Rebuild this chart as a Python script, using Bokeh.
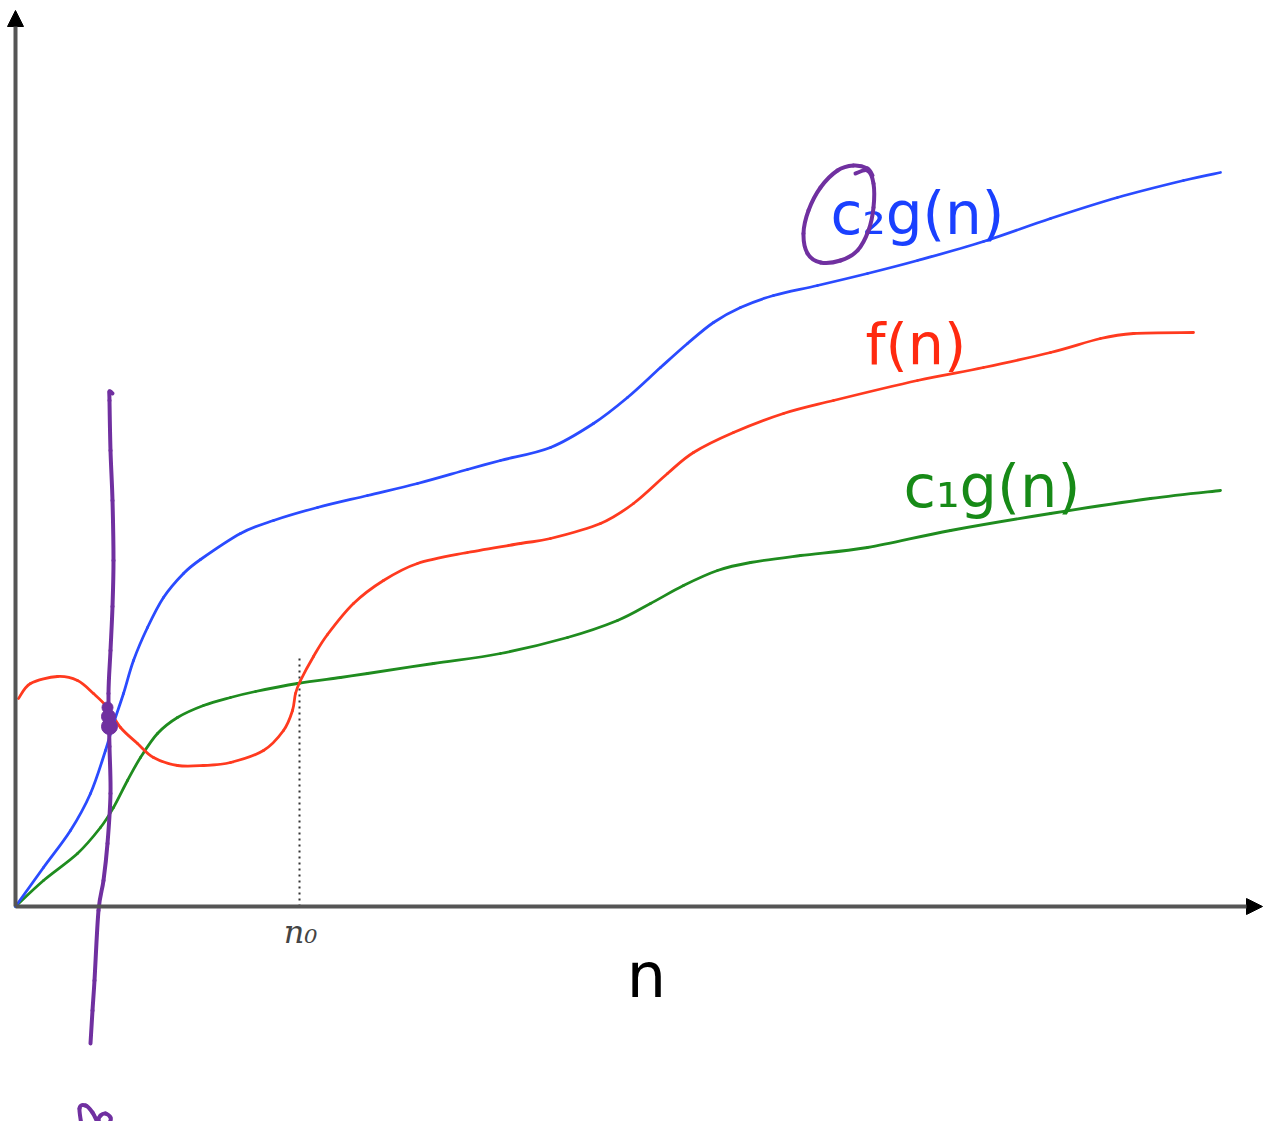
import numpy as np
from bokeh.plotting import figure
from bokeh.models import Range1d, Arrow, NormalHead
from bokeh.core.properties import value
from bokeh.embed import file_html
from bokeh.resources import INLINE

# c2 g(n) (upper bound)
upper_n = [0, 28, 55, 75, 90, 98, 108, 118, 132, 148, 168, 185, 225, 258, 302, 352, 402, 452, 485,
           535, 578, 612, 645, 672, 698, 725, 758, 802, 852, 902, 968, 1035, 1102, 1168, 1205]
upper_v = [0, 39, 76, 113, 156, 183, 213, 246, 279, 309, 333, 347, 373, 386, 399, 411, 423, 437, 446,
           459, 483, 509, 539, 563, 584, 599, 611, 621, 633, 646, 665, 688, 709, 726, 734]

# f(n)
f_n = [3, 15, 42, 62, 78, 92, 105, 122, 138, 162, 188, 215, 248, 268, 277, 280, 285, 298, 312, 338, 368,
       402, 452, 505, 535, 585, 618, 652, 678, 718, 768, 818, 902, 968, 1035, 1085, 1118, 1178]
f_v = [208, 223, 230, 226, 213, 199, 179, 163, 149, 141, 141, 144, 156, 176, 196, 213, 226, 250, 272, 303, 326,
       343, 354, 363, 368, 383, 403, 433, 454, 474, 493, 506, 526, 539, 554, 568, 573, 574]

# c1 g(n) (lower bound)
lower_n = [0, 28, 62, 85, 98, 112, 125, 142, 162, 188, 215, 240, 282, 325, 352, 418, 485, 552, 602, 635,
           668, 702, 735, 785, 852, 935, 1035, 1135, 1205]
lower_v = [0, 26, 53, 79, 99, 126, 149, 173, 189, 201, 209, 215, 223, 229, 233, 243, 253, 269, 286, 303,
           321, 336, 344, 351, 359, 376, 393, 408, 416]

n0 = 284
n0_level = 251

# handwritten annotations
pen_line_x = [97, 94, 94, 95, 97, 98, 97, 95, 93, 94, 95, 92, 88, 83, 79, 77, 75]
pen_line_y = [513, 515, 506, 456, 406, 346, 300, 256, 213, 160, 113, 63, 26, -4, -74, -104, -137]
pen_dot_x = [92, 93, 94]
pen_dot_y = [199, 190, 180]
pen_dot_size = [11, 14, 16]
pen_ring_x = [840, 852, 858, 858, 853, 842, 825, 805, 792, 788, 793, 805, 822, 838, 852, 857]
pen_ring_y = [733, 736, 723, 699, 676, 656, 646, 644, 653, 673, 696, 719, 736, 741, 738, 731]
pen_note_x = [67, 64, 70, 77, 82, 85, 88, 94, 95, 90, 85, 83, 86]
pen_note_y = [-224, -202, -199, -206, -216, -222, -221, -216, -211, -207, -209, -214, -221]


def smooth(p, xs, ys, **kw):
    """Draw a polyline through the given points as connected cubic Bezier segments."""
    x = np.asarray(xs, float)
    y = np.asarray(ys, float)
    xe = np.concatenate([[x[0]], x, [x[-1]]])
    ye = np.concatenate([[y[0]], y, [y[-1]]])
    x0, y0 = x[:-1], y[:-1]
    x1, y1 = x[1:], y[1:]
    cx0 = x0 + (xe[2:-1] - xe[:-3]) / 6.0
    cy0 = y0 + (ye[2:-1] - ye[:-3]) / 6.0
    cx1 = x1 - (xe[3:] - xe[1:-2]) / 6.0
    cy1 = y1 - (ye[3:] - ye[1:-2]) / 6.0
    p.bezier(x0=x0, y0=y0, x1=x1, y1=y1, cx0=cx0, cy0=cy0, cx1=cx1, cy1=cy1, **kw)


p = figure(width=1263, height=1121, output_backend="svg", toolbar_location=None,
           x_range=Range1d(-15, 1248), y_range=Range1d(-215, 906),
           x_axis_location=None, y_axis_location=None, min_border=0)
p.grid.visible = False
p.outline_line_color = None
p.background_fill_color = "white"

# axes with arrows
p.add_layout(Arrow(end=NormalHead(size=16, fill_color="black", line_color="black"),
                   x_start=0, y_start=0, x_end=0, y_end=896,
                   line_color="#555555", line_width=4))
p.add_layout(Arrow(end=NormalHead(size=16, fill_color="black", line_color="black"),
                   x_start=0, y_start=0, x_end=1247, y_end=0,
                   line_color="#555555", line_width=4))

# n0 dotted marker
p.line([n0, n0], [0, n0_level], line_color="#333333", line_width=2, line_dash="2 4")

smooth(p, lower_n, lower_v, line_color="#1f8c1f", line_width=2.8, line_cap="round")
smooth(p, f_n, f_v, line_color="#ff3a1f", line_width=2.8, line_cap="round")
smooth(p, upper_n, upper_v, line_color="#2a4bff", line_width=2.8, line_cap="round")

font = value("DejaVu Sans")
p.text(x=[815], y=[693], text=["c₂g(n)"], text_font=font, text_font_size="58px",
       text_color="#1a40ff", text_baseline="alphabetic", text_align="left")
p.text(x=[850], y=[563], text=["f(n)"], text_font=font, text_font_size="57px",
       text_color="#ff2a10", text_baseline="alphabetic", text_align="left")
p.text(x=[888], y=[420], text=["c₁g(n)"], text_font=font, text_font_size="59px",
       text_color="#178a17", text_baseline="alphabetic", text_align="left")
p.text(x=[631], y=[-69], text=["n"], text_font=font, text_font_size="62px",
       text_color="black", text_baseline="alphabetic", text_align="center")
p.text(x=[n0 + 1], y=[-25], text=["n₀"], text_font=value("DejaVu Serif"), text_font_style="italic",
       text_font_size="32px", text_color="#444444", text_baseline="alphabetic", text_align="center")

# purple pen annotations
purple = "#7030a0"
smooth(p, pen_line_x, pen_line_y, line_color=purple, line_width=4, line_cap="round")
p.scatter(pen_dot_x, pen_dot_y, size=pen_dot_size, fill_color=purple, line_color=purple)
smooth(p, pen_ring_x, pen_ring_y, line_color=purple, line_width=4, line_cap="round")
smooth(p, pen_note_x, pen_note_y, line_color=purple, line_width=4, line_cap="round")

open("out.html", "w").write(file_html(p, INLINE))
